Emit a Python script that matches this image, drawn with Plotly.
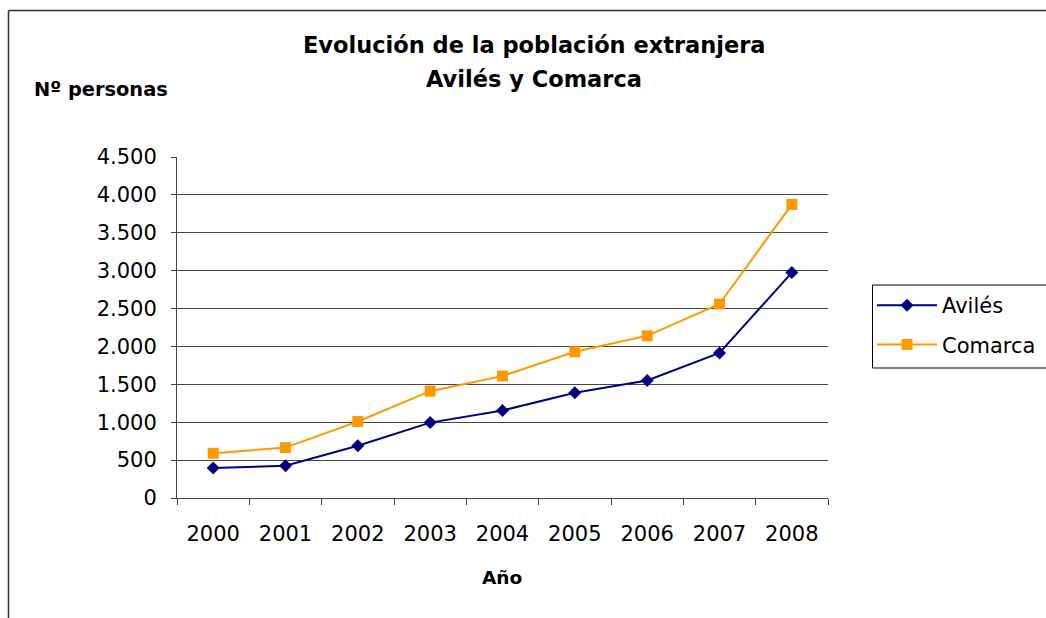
import plotly.graph_objects as go

years = ["2000", "2001", "2002", "2003", "2004", "2005", "2006", "2007", "2008"]
aviles = [395, 425, 690, 995, 1155, 1390, 1550, 1915, 2975]
comarca = [590, 665, 1010, 1410, 1610, 1930, 2140, 2560, 3875]

title_line1 = "Evolución de la población extranjera"
title_line2 = "Avilés y Comarca"
y_title = "Nº personas"
x_title = "Año"

FONT = "DejaVu Sans"
W, H = 1046, 618
L, R, T, B = 177, 828, 157, 498


def px(x):
    return (x - L) / (R - L)


def py(y):
    return (B - y) / (B - T)


fig = go.Figure()
fig.add_trace(go.Scatter(
    x=years, y=aviles, name="Avilés", mode="lines+markers",
    line=dict(color="#000080", width=2),
    marker=dict(symbol="diamond", size=10, color="#000080"),
    legendgroup="a",
))
fig.add_trace(go.Scatter(
    x=years, y=comarca, name="Comarca", mode="lines+markers",
    line=dict(color="#FF9900", width=2),
    marker=dict(symbol="square", size=11, color="#FF9900"),
    legendgroup="b",
))

fig.update_layout(
    width=W, height=H,
    margin=dict(l=L, r=W - R, t=T, b=H - B, pad=0, autoexpand=False),
    paper_bgcolor="white", plot_bgcolor="white",
    separators=",.",
    font=dict(family=FONT, size=21, color="black"),
    showlegend=True,
    legend=dict(
        x=px(872), y=py(285), xanchor="left", yanchor="top",
        borderwidth=0, bgcolor="rgba(0,0,0,0)",
        font=dict(family=FONT, size=21, color="black"),
        tracegroupgap=9, itemwidth=60,
    ),
    xaxis=dict(
        type="category", range=[-0.5, 8.5], tickson="boundaries",
        ticks="outside", ticklen=6, tickcolor="#444", tickwidth=1,
        showline=True, linecolor="#444", linewidth=1,
        showgrid=False, zeroline=False, ticklabelstandoff=17,
        tickfont=dict(family=FONT, size=21, color="black"),
    ),
    yaxis=dict(
        range=[0, 4500], dtick=500, tick0=0, tickformat=",d",
        ticks="outside", ticklen=5, tickcolor="#444", tickwidth=1,
        showline=True, linecolor="#444", linewidth=1,
        showgrid=True, gridcolor="#444", gridwidth=1, zeroline=False,
        ticklabelstandoff=10,
        tickfont=dict(family=FONT, size=21, color="black"),
    ),
)

annots = [
    dict(text="<b>%s</b>" % title_line1, x=px(534), y=py(45), size=22.5),
    dict(text="<b>%s</b>" % title_line2, x=px(534), y=py(79), size=22.5),
    dict(text="<b>%s</b>" % y_title, x=px(101), y=py(90), size=19.4),
    dict(text="<b>%s</b>" % x_title, x=px(502), y=py(577), size=18.5),
]
for a in annots:
    fig.add_annotation(
        text=a["text"], x=a["x"], y=a["y"], xref="paper", yref="paper",
        xanchor="center", yanchor="middle", showarrow=False,
        font=dict(family=FONT, size=a["size"], color="black"),
    )

# outer chart frame (top and left edges visible)
fig.add_shape(type="line", xref="paper", yref="paper",
              x0=px(8.5), x1=px(1060), y0=py(10.5), y1=py(10.5),
              line=dict(color="#333", width=1.5))
fig.add_shape(type="line", xref="paper", yref="paper",
              x0=px(8.5), x1=px(8.5), y0=py(10.5), y1=py(640),
              line=dict(color="#333", width=1.5))
# legend frame (runs past the right edge, as in the original)
fig.add_shape(type="rect", xref="paper", yref="paper",
              x0=px(872.5), x1=px(1080), y0=py(285), y1=py(368),
              line=dict(color="black", width=1), fillcolor="white",
              layer="below")

fig.write_html(
    "out.html",
    config={"displayModeBar": False},
    post_script="document.body.style.margin='0';document.body.style.overflow='hidden';",
)
